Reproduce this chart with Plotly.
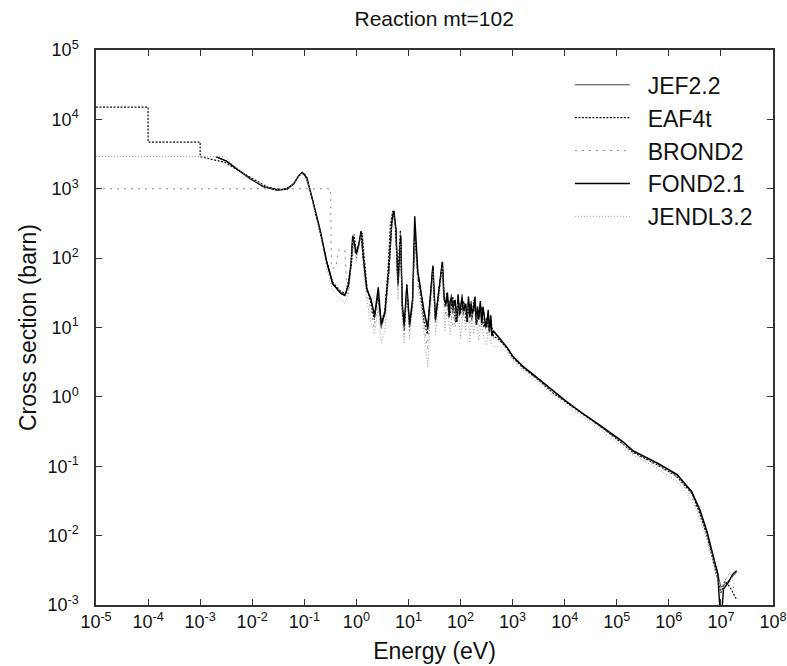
import plotly.graph_objects as go

# ---------------- data ----------------
# JEF2.2 and FOND2.1 share this pointwise energy grid (eV)
E_POINT = [0.002, 0.0032, 0.0047, 0.0091, 0.016, 0.030, 0.047, 0.063, 0.079, 0.091,
           0.112, 0.129, 0.158, 0.20, 0.27, 0.35, 0.50, 0.60, 0.71, 0.79,
           0.85, 1.0, 1.12, 1.23, 1.35, 1.58, 1.9, 2.24, 2.63, 3.0,
           3.55, 4.17, 4.8, 5.25, 5.75, 6.3, 7.1, 7.6, 8.3, 9.3,
           10.5, 12.0, 13.2, 15.1, 17.4, 20, 23.4, 26.3, 29.5, 33,
           38, 44.7, 48, 52.5, 56, 60, 63, 67, 71, 75,
           79, 85, 90, 95, 100, 107, 113, 120, 126, 135,
           142, 151, 160, 168, 178, 190, 200, 212, 224, 240,
           255, 270, 282, 300, 316, 340, 360, 380, 400, 427,
           562, 794, 1000, 1585, 2950, 6310, 1.0e4, 2.0e4, 4.8e4, 1.32e5,
           2.04e5, 6.2e5, 1.45e6, 2.75e6, 4.0e6, 5.4e6, 7.1e6, 8.7e6, 1.0e7, 1.12e7,
           1.38e7, 1.7e7, 2.0e7]

JEF22 = [2880, 2510, 2000, 1410, 1070, 955, 1000, 1200, 1585, 1700,
         1410, 955, 500, 257, 85, 42, 32, 30, 40, 79,
         200, 112, 158, 240, 100, 35, 25, 14, 32, 10,
         16, 63, 316, 470, 250, 40, 200, 20, 10, 40,
         10, 25, 250, 63, 32, 16, 9.3, 25, 74, 12.6,
         32, 85, 30, 20, 28, 15, 22, 30, 16, 25,
         22, 14, 28, 17, 18, 30, 15, 22, 20, 13,
         26, 16, 24, 14, 20, 26, 12, 18, 14, 22,
         12, 18, 16, 10, 11.7, 16, 9, 14, 8, 8.7,
         6.8, 5.0, 3.8, 2.7, 1.85, 1.15, 0.88, 0.6, 0.38, 0.22,
         0.165, 0.108, 0.074, 0.042, 0.022, 0.011, 0.0049, 0.0029, 0.0018, 0.0019,
         0.0022, 0.0026, 0.0030]

FOND21 = [2900, 2500, 2020, 1400, 1080, 960, 990, 1180, 1560, 1720,
          1450, 960, 510, 260, 88, 43, 31, 29, 42, 85,
          210, 115, 160, 245, 105, 36, 26, 15, 38, 11,
          17, 65, 330, 480, 260, 42, 210, 22, 11, 42,
          11, 26, 400, 65, 33, 17, 10, 26, 78, 13,
          33, 88, 26, 22, 32, 14, 24, 27, 18, 22,
          25, 12, 30, 15, 20, 27, 17, 20, 22, 12,
          28, 14, 22, 16, 18, 28, 11, 20, 13, 24,
          11, 20, 15, 11, 10, 18, 8.5, 15, 7.5, 9,
          7.0, 5.1, 3.9, 2.75, 1.9, 1.18, 0.9, 0.61, 0.39, 0.225,
          0.168, 0.11, 0.076, 0.043, 0.023, 0.0115, 0.0051, 0.0028, 0.0005, 0.0017,
          0.0021, 0.0028, 0.0031]

# EAF4t: group-wise data (steps at low energy)
E_EAF = [1e-5, 1e-4, 1e-4, 1e-3, 1e-3, 3e-3, 5e-3, 1e-2, 2e-2, 4e-2,
         6e-2, 8e-2, 0.1, 0.13, 0.16, 0.2, 0.27, 0.35, 0.5, 0.63,
         0.8, 0.9, 1.0, 1.15, 1.3, 1.4, 1.6, 1.9, 2.2, 2.6,
         3.0, 3.5, 4.0, 4.5, 5.0, 5.6, 6.2, 7.0, 7.6, 8.3,
         9.3, 10.5, 12, 13.2, 15, 17.4, 20, 23, 26, 29,
         33, 38, 45, 50, 55, 63, 71, 80, 90, 100,
         115, 130, 150, 165, 180, 205, 224, 250, 280, 320,
         350, 380, 430, 560, 800, 1000, 1600, 3000, 6300, 1e4,
         2e4, 5e4, 1.3e5, 2e5, 6e5, 1.4e6, 2.8e6, 4e6, 5.4e6, 7e6,
         8.7e6, 1e7, 1.2e7, 1.5e7, 2e7]
EAF4T = [1.5e4, 1.5e4, 4.7e3, 4.7e3, 2900, 2400, 1900, 1400, 1050, 960,
         1150, 1550, 1700, 950, 480, 250, 90, 45, 33, 31,
         80, 220, 120, 180, 230, 110, 38, 22, 13, 28,
         12, 17, 60, 300, 480, 300, 50, 250, 18, 9,
         35, 11, 22, 230, 60, 28, 12, 8, 28, 70,
         13, 35, 90, 20, 32, 15, 28, 12, 26, 16,
         24, 12, 22, 13, 25, 11, 17, 20, 10, 14,
         9, 13, 7.5, 6.6, 4.9, 3.7, 2.6, 1.8, 1.1, 0.86,
         0.6, 0.37, 0.21, 0.16, 0.105, 0.072, 0.04, 0.02, 0.01, 0.0045,
         0.0025, 0.0015, 0.0022, 0.0018, 0.0012]

E_BROND = [1e-5, 0.32, 0.33, 0.4, 0.45, 0.6, 0.65, 0.7, 0.85, 1.0,
           1.23, 1.4, 1.6, 1.9, 2.2, 2.6, 3.0, 3.5, 4.2, 4.8,
           5.3, 5.8, 6.3, 7.1, 7.6, 8.3, 9.3, 10.5, 12, 13.2,
           15, 17.4, 20, 23, 26, 29.5, 33, 38, 45, 52,
           63, 71, 80, 100, 126, 151, 178, 224, 282, 316,
           380, 427, 562, 794, 1000, 1585, 2950, 6310, 1e4, 2e4,
           4.8e4, 1.32e5, 2e5, 6.2e5, 1.45e6, 2.75e6, 4e6, 5.4e6, 7.1e6, 8.7e6,
           1e7, 1.3e7, 1.6e7, 2e7]
BROND2 = [1000, 1000, 72, 72, 130, 130, 40, 30, 150, 100,
          230, 90, 30, 18, 10, 25, 9, 14, 55, 320,
          460, 260, 35, 220, 16, 8, 38, 9, 20, 240,
          50, 25, 10, 5, 22, 72, 11, 30, 80, 14,
          18, 11, 20, 13, 18, 11, 17, 10, 14, 8,
          12, 7, 6.2, 4.7, 3.6, 2.6, 1.75, 1.1, 0.85, 0.58,
          0.36, 0.21, 0.155, 0.1, 0.068, 0.036, 0.019, 0.0095, 0.0045, 0.0026,
          0.0017, 0.0025, 0.002, 0.0015]

E_JENDL = [1e-5, 3e-3, 4.7e-3, 9e-3, 1.6e-2, 3e-2, 4.7e-2, 6.3e-2, 7.9e-2, 9.1e-2,
           0.112, 0.129, 0.158, 0.2, 0.27, 0.35, 0.5, 0.6, 0.71, 0.79,
           0.85, 1.0, 1.12, 1.23, 1.35, 1.58, 1.9, 2.24, 2.63, 3.0,
           3.55, 4.17, 4.8, 5.25, 5.75, 6.3, 7.1, 7.6, 8.3, 9.3,
           10.5, 12.0, 13.2, 15.1, 17.4, 20, 23.4, 26.3, 29.5, 33,
           38, 44.7, 50, 56, 63, 71, 79, 88, 100, 113,
           126, 140, 151, 165, 178, 200, 224, 250, 282, 316,
           350, 380, 427, 562, 794, 1000, 1585, 2950, 6310, 1e4,
           2e4, 4.8e4, 1.32e5, 2.04e5, 6.2e5, 1.45e6, 2.75e6, 4.0e6, 5.4e6, 7.1e6,
           8.7e6, 1.0e7, 1.2e7, 1.5e7, 1.8e7]
JENDL32 = [2900, 2900, 2050, 1420, 1080, 960, 990, 1180, 1560, 1680,
           1400, 950, 480, 240, 70, 35, 26, 22, 30, 70,
           180, 90, 140, 220, 80, 25, 12, 8, 20, 6,
           9, 50, 280, 420, 200, 25, 160, 12, 6, 30,
           7, 18, 180, 40, 20, 8, 2.7, 15, 65, 8,
           25, 75, 9, 22, 8, 20, 10, 22, 7, 18,
           9, 20, 6, 16, 8, 15, 6.5, 12, 7, 5.5,
           10, 6, 5.2, 5.4, 4.3, 3.4, 2.4, 1.65, 1.02, 0.78,
           0.55, 0.34, 0.19, 0.145, 0.092, 0.06, 0.032, 0.017, 0.0085, 0.004,
           0.0022, 0.0016, 0.0023, 0.0030, 0.0020]

X_TICKS = [-5, -4, -3, -2, -1, 0, 1, 2, 3, 4, 5, 6, 7, 8]
Y_TICKS = [-3, -2, -1, 0, 1, 2, 3, 4, 5]

FONT = "Liberation Sans, Arial, Helvetica, sans-serif"
PAD = "\u00a0\u00a0"

fig = go.Figure()
fig.add_trace(go.Scatter(x=E_POINT, y=JEF22, mode="lines", name=PAD + "JEF2.2",
                         line=dict(color="#444444", width=1)))
fig.add_trace(go.Scatter(x=E_EAF, y=EAF4T, mode="lines", name=PAD + "EAF4t",
                         line=dict(color="#111111", width=1.2, dash="2px,1.5px")))
fig.add_trace(go.Scatter(x=E_BROND, y=BROND2, mode="lines", name=PAD + "BROND2",
                         line=dict(color="#8a8a8a", width=1, dash="2px,5px")))
fig.add_trace(go.Scatter(x=E_POINT, y=FOND21, mode="lines", name=PAD + "FOND2.1",
                         line=dict(color="#000000", width=1.4)))
fig.add_trace(go.Scatter(x=E_JENDL, y=JENDL32, mode="lines", name=PAD + "JENDL3.2",
                         line=dict(color="#9a9a9a", width=1, dash="1px,2px")))

axis_common = dict(
    type="log", showgrid=False, zeroline=False, showline=True, mirror="ticks",
    linecolor="#333333", linewidth=1.5, ticks="inside", ticklen=6,
    tickcolor="#333333", tickwidth=1.2, automargin=False,
    tickfont=dict(family=FONT, size=18, color="#111111"),
)

fig.update_layout(
    width=787, height=666,
    margin=dict(l=96, r=14, t=50, b=61, autoexpand=False),
    paper_bgcolor="white", plot_bgcolor="white",
    title=dict(text="Reaction mt=102", x=0.5517, xanchor="center", y=0.972, yanchor="middle",
               font=dict(family=FONT, size=21, color="#111111")),
    xaxis=dict(axis_common, range=[-5, 8],
               tickvals=[10 ** v for v in X_TICKS],
               ticktext=["10<sup>%d</sup>" % v for v in X_TICKS],
               title=dict(text="Energy (eV)", standoff=12,
                          font=dict(family=FONT, size=23, color="#111111"))),
    yaxis=dict(axis_common, range=[-3, 5],
               tickvals=[10 ** v for v in Y_TICKS],
               ticktext=["10<sup>%d</sup>" % v for v in Y_TICKS],
               ticklabelstandoff=12,
               title=dict(text="Cross section (barn)", standoff=4,
                          font=dict(family=FONT, size=23, color="#111111"))),
    legend=dict(x=0.70, y=0.976, xanchor="left", yanchor="top",
                bgcolor="rgba(0,0,0,0)", borderwidth=0, itemwidth=55,
                font=dict(family=FONT, size=23, color="#111111"),
                tracegroupgap=0),
    showlegend=True,
)

fig.write_html("out.html")
